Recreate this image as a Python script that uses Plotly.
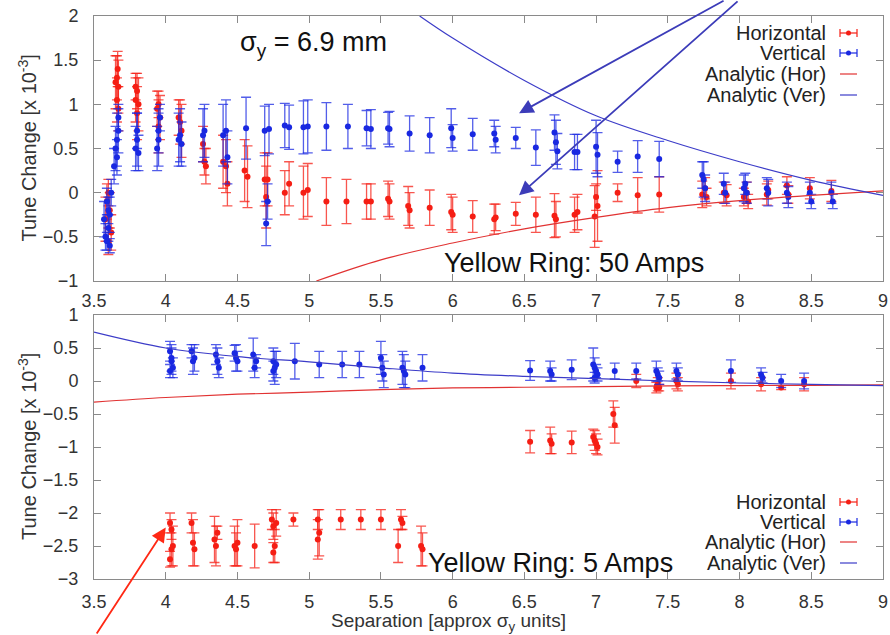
import plotly.graph_objects as go

# ---------------- data: top panel (Yellow Ring 50 Amps) ----------------
top_h_x = [3.58, 3.59, 3.60, 3.61, 3.62, 3.60,
           3.65, 3.66, 3.67, 3.66, 3.665, 3.67,
           3.79, 3.80, 3.81, 3.80, 3.79,
           3.94, 3.95, 3.96, 3.95,
           4.09, 4.10, 4.11,
           4.26, 4.27, 4.28,
           4.40, 4.42, 4.43,
           4.55, 4.57,
           4.69, 4.70, 4.71,
           4.83, 4.86, 4.96, 4.99, 5.12, 5.26, 5.40, 5.43, 5.55, 5.56,
           5.69, 5.70, 5.84, 5.99, 6.00, 6.14, 6.29, 6.30, 6.44, 6.58,
           6.71, 6.72, 6.85, 6.87, 6.99, 7.00, 7.01, 7.15, 7.29, 7.44,
           7.74, 7.76, 7.77, 7.89, 7.91, 8.03, 8.05, 8.06, 8.19, 8.20,
           8.33, 8.34, 8.49, 8.64]
top_h_y = [-0.30, -0.10, 0.00, -0.20, -0.45, -0.55,
           1.25, 1.30, 1.20, 1.05, 1.40, 0.95,
           1.05, 1.15, 1.00, 0.90, 1.20,
           0.95, 1.00, 0.85, 0.75,
           0.85, 0.80, 0.70,
           0.55, 0.35, 0.30,
           0.35, 0.30, 0.10,
           0.25, 0.18,
           0.15, -0.05, 0.15,
           0.00, 0.10, 0.00, 0.03, -0.10, -0.10, -0.10, -0.10, -0.07, -0.10,
           -0.15, -0.20, -0.17, -0.22, -0.25, -0.27, -0.30, -0.28, -0.24, -0.25,
           -0.26, -0.30, -0.25, -0.22, -0.27, -0.05, -0.15, 0.00, -0.03, -0.02,
           -0.02, 0.05, -0.05, 0.00, -0.03, -0.05, 0.00, -0.10, -0.02, 0.03,
           0.08, -0.02, 0.05, 0.02]
top_h_err = [0.25, 0.20, 0.15, 0.20, 0.20, 0.15,
             0.30, 0.25, 0.30, 0.25, 0.20, 0.25,
             0.25, 0.20, 0.30, 0.30, 0.15,
             0.20, 0.15, 0.25, 0.30,
             0.20, 0.25, 0.30,
             0.20, 0.15, 0.20,
             0.30, 0.30, 0.25,
             0.35, 0.35,
             0.30, 0.35, 0.30,
             0.25, 0.25, 0.30, 0.30, 0.27, 0.25, 0.20, 0.20, 0.20, 0.20,
             0.22, 0.20, 0.20, 0.20, 0.20, 0.18, 0.17, 0.15, 0.13, 0.20,
             0.25, 0.20, 0.20, 0.20, 0.35, 0.15, 0.40, 0.10, 0.20, 0.20,
             0.15, 0.12, 0.10, 0.12, 0.12, 0.10, 0.12, 0.08, 0.12, 0.10,
             0.10, 0.10, 0.12, 0.12]

top_v_x = [3.57, 3.58, 3.59, 3.59, 3.60, 3.60, 3.61, 3.62, 3.61,
           3.64, 3.65, 3.66, 3.67, 3.66, 3.67,
           3.79, 3.80, 3.81, 3.80,
           3.94, 3.95, 3.96, 3.95,
           4.09, 4.10, 4.11,
           4.26, 4.27,
           4.40, 4.42, 4.43,
           4.56,
           4.69, 4.70, 4.71, 4.72,
           4.83, 4.86, 4.96, 4.99, 5.12, 5.27, 5.40, 5.43, 5.55, 5.56,
           5.70, 5.84, 5.99, 6.00, 6.14, 6.29, 6.30, 6.44, 6.58,
           6.71, 6.72, 6.73, 6.85, 6.87, 7.00, 7.01, 7.15, 7.29, 7.44,
           7.74, 7.75, 7.76, 7.89, 7.90, 8.03, 8.04, 8.05, 8.19, 8.20,
           8.33, 8.34, 8.49, 8.50, 8.64, 8.65]
top_v_y = [-0.30, -0.50, -0.10, -0.55, -0.20, -0.40, -0.25, 0.00, -0.60,
           0.30, 0.50, 0.60, 0.70, 0.40, 0.85,
           0.50, 0.60, 0.45, 0.70,
           0.50, 0.70, 0.85, 0.60,
           0.60, 0.65, 0.55,
           0.65, 0.70,
           0.65, 0.70, 0.40,
           0.73,
           0.70, -0.35, -0.10, 0.72,
           0.76, 0.74, 0.74, 0.75, 0.75, 0.75, 0.73, 0.72, 0.73, 0.72,
           0.67, 0.65, 0.73, 0.62, 0.66, 0.67, 0.60, 0.62, 0.51,
           0.68, 0.57, 0.47, 0.46, 0.46, 0.52, 0.43, 0.35, 0.41, 0.38,
           0.20, 0.15, 0.05, 0.10, 0.00, 0.05, 0.10, 0.00, 0.05, 0.00,
           0.00, -0.05, 0.00, -0.10, 0.00, -0.10]
top_v_err = [0.20, 0.15, 0.15, 0.10, 0.15, 0.15, 0.20, 0.15, 0.08,
             0.20, 0.25, 0.30, 0.25, 0.20, 0.15,
             0.25, 0.30, 0.20, 0.20,
             0.25, 0.25, 0.15, 0.30,
             0.30, 0.30, 0.25,
             0.30, 0.30,
             0.35, 0.35, 0.30,
             0.35,
             0.28, 0.25, 0.20, 0.28,
             0.25, 0.25, 0.30, 0.30, 0.27, 0.25, 0.20, 0.22, 0.18, 0.20,
             0.20, 0.20, 0.22, 0.15, 0.18, 0.15, 0.15, 0.12, 0.20,
             0.20, 0.25, 0.20, 0.20, 0.20, 0.30, 0.25, 0.12, 0.18, 0.20,
             0.15, 0.20, 0.15, 0.12, 0.12, 0.15, 0.12, 0.12, 0.12, 0.15,
             0.12, 0.12, 0.12, 0.08, 0.12, 0.08]

top_ana_h_x = [5.05, 5.5, 6.0, 6.5, 7.0, 7.5, 8.0, 8.5, 9.0]
top_ana_h_y = [-1.0, -0.76, -0.57, -0.41, -0.28, -0.17, -0.09, -0.03, 0.02]
top_ana_v_x = [5.77, 6.0, 6.5, 7.0, 7.5, 8.0, 8.5, 9.0]
top_ana_v_y = [2.0, 1.75, 1.27, 0.87, 0.59, 0.35, 0.14, -0.03]

# ---------------- data: bottom panel (Yellow Ring 5 Amps) ----------------
bot_h_x = [4.03, 4.04, 4.05, 4.04, 4.03,
           4.18, 4.19, 4.20,
           4.35, 4.36, 4.34,
           4.48, 4.49, 4.50,
           4.62,
           4.74, 4.75, 4.76, 4.75, 4.77,
           4.89, 5.06, 5.07, 5.06, 5.22, 5.36, 5.50, 5.64, 5.62, 5.65,
           5.78, 5.79,
           6.54, 6.68, 6.69, 6.83, 6.98, 6.99, 7.00, 7.01, 7.12, 7.13,
           7.28, 7.42, 7.43, 7.44, 7.56, 7.57, 7.94, 8.15, 8.29, 8.45]
bot_h_y = [-2.15, -2.25, -2.50, -2.55, -2.70,
           -2.15, -2.45, -2.55,
           -2.50, -2.30, -2.40,
           -2.50, -2.55, -2.45,
           -2.50,
           -2.10, -2.20, -2.50, -2.60, -2.15,
           -2.10, -2.10, -2.30, -2.40, -2.10, -2.10, -2.10, -2.10, -2.50, -2.15,
           -2.50, -2.55,
           -0.92, -0.90, -0.95, -0.93, -0.85, -0.90, -0.95, -1.00, -0.50, -0.67,
           0.00, -0.10, -0.05, -0.10, 0.00, -0.05, 0.00, -0.05, -0.10, -0.05]
bot_h_err = [0.15, 0.15, 0.30, 0.25, 0.12,
             0.15, 0.35, 0.25,
             0.30, 0.10, 0.35,
             0.30, 0.25, 0.35,
             0.33,
             0.15, 0.20, 0.25, 0.15, 0.20,
             0.10, 0.15, 0.35, 0.30, 0.15, 0.15, 0.15, 0.15, 0.25, 0.10,
             0.30, 0.25,
             0.17, 0.20, 0.15, 0.17, 0.12, 0.15, 0.15, 0.12, 0.20, 0.27,
             0.10, 0.08, 0.10, 0.05, 0.12, 0.10, 0.12, 0.10, 0.03, 0.10]

bot_v_x = [4.03, 4.04, 4.05, 4.04, 4.03,
           4.18, 4.19, 4.20,
           4.35, 4.36, 4.37,
           4.48, 4.49, 4.50,
           4.61, 4.62, 4.63,
           4.75, 4.76, 4.77, 4.75,
           4.90, 5.07, 5.23, 5.35, 5.50, 5.51, 5.52, 5.65, 5.66, 5.67, 5.79,
           6.54, 6.68, 6.69, 6.83, 6.98, 6.99, 7.00, 7.01, 6.99,
           7.13, 7.28, 7.42, 7.43, 7.44, 7.56, 7.57, 7.94, 8.15, 8.16, 8.29, 8.45]
bot_v_y = [0.45, 0.35, 0.20, 0.30, 0.15,
           0.45, 0.30, 0.35,
           0.40, 0.30, 0.20,
           0.42, 0.35, 0.30,
           0.40, 0.20, 0.30,
           0.30, 0.20, 0.25, 0.15,
           0.30, 0.25, 0.25, 0.25, 0.35, 0.20, 0.10, 0.20, 0.15, 0.10, 0.20,
           0.16, 0.15, 0.10, 0.17, 0.25, 0.20, 0.15, 0.10, 0.05,
           0.15, 0.15, 0.15, 0.10, 0.05, 0.15, 0.10, 0.15, 0.10, 0.05, 0.00, 0.00]
bot_v_err = [0.15, 0.20, 0.15, 0.20, 0.10,
             0.10, 0.20, 0.20,
             0.15, 0.20, 0.15,
             0.12, 0.20, 0.15,
             0.25, 0.15, 0.10,
             0.20, 0.25, 0.20, 0.15,
             0.27, 0.20, 0.20, 0.20, 0.25, 0.20, 0.20, 0.25, 0.25, 0.20, 0.20,
             0.15, 0.15, 0.10, 0.15, 0.25, 0.15, 0.10, 0.10, 0.08,
             0.12, 0.12, 0.15, 0.10, 0.10, 0.12, 0.10, 0.17, 0.10, 0.08, 0.10, 0.12]

bot_ana_x = [3.5, 4.0, 4.5, 5.0, 5.5, 6.0, 6.5, 7.0, 7.5, 8.0, 8.5, 9.0]
bot_ana_v_y = [0.74, 0.50, 0.37, 0.29, 0.20, 0.12, 0.07, 0.035, 0.0, -0.03, -0.05, -0.07]
bot_ana_h_y = [-0.32, -0.25, -0.20, -0.17, -0.13, -0.105, -0.095, -0.085, -0.075, -0.07, -0.065, -0.06]

x_ticks = [3.5, 4, 4.5, 5, 5.5, 6, 6.5, 7, 7.5, 8, 8.5, 9]
x_tick_text = ["3.5", "4", "4.5", "5", "5.5", "6", "6.5", "7", "7.5", "8", "8.5", "9"]
legend_labels = ["Horizontal", "Vertical", "Analytic (Hor)", "Analytic (Ver)"]

# ---------------- styling ----------------
RED = "rgb(245,30,20)"
BLUE = "rgb(25,40,225)"
RED_E = "rgba(245,30,20,0.75)"
BLUE_E = "rgba(25,40,225,0.75)"
RED_L = "rgb(225,50,50)"
BLUE_L = "rgb(60,60,200)"
FONT = "Liberation Sans, Arial, sans-serif"

# The page body margin is removed (post_script), so the figure fills the window.
W, H = 890, 635
PL, PR, PT, PB = 94, 883, 16, 579          # plot area in window pixels
L, R, T, B = PL, W - PR, PT, H - PB


def pp(px, py):
    """window pixel -> paper coordinates"""
    return (px - PL) / (PR - PL), (PB - py) / (PB - PT)


fig = go.Figure()


def data_trace(x, y, e, col, ecol, xa, ya):
    fig.add_trace(go.Scatter(
        x=x, y=y, mode="markers", xaxis=xa, yaxis=ya, showlegend=False,
        marker=dict(color=col, size=6),
        error_y=dict(type="data", array=e, visible=True, color=ecol,
                     thickness=1.3, width=5)))


def line_trace(x, y, col, xa, ya):
    fig.add_trace(go.Scatter(
        x=x, y=y, mode="lines", xaxis=xa, yaxis=ya, showlegend=False,
        line=dict(color=col, width=1.2, shape="spline")))


data_trace(top_h_x, top_h_y, top_h_err, RED, RED_E, "x", "y")
data_trace(top_v_x, top_v_y, top_v_err, BLUE, BLUE_E, "x", "y")
line_trace(top_ana_h_x, top_ana_h_y, RED_L, "x", "y")
line_trace(top_ana_v_x, top_ana_v_y, BLUE_L, "x", "y")

data_trace(bot_h_x, bot_h_y, bot_h_err, RED, RED_E, "x2", "y2")
data_trace(bot_v_x, bot_v_y, bot_v_err, BLUE, BLUE_E, "x2", "y2")
line_trace(bot_ana_x, bot_ana_h_y, RED_L, "x2", "y2")
line_trace(bot_ana_x, bot_ana_v_y, BLUE_L, "x2", "y2")

top_bottom = pp(0, 281)[1]
bot_top = pp(0, 315)[1]

axis_common = dict(
    showline=True, linecolor="#8a8a8a", linewidth=1, mirror="ticks",
    ticks="inside", ticklen=7, tickcolor="#8a8a8a", showgrid=False,
    zeroline=False, automargin=False, ticklabeloverflow="allow",
    tickfont=dict(family=FONT, size=18, color="#333"),
)

fig.update_layout(
    width=W, height=H,
    margin=dict(l=L, r=R, t=T, b=B),
    paper_bgcolor="white", plot_bgcolor="white",
    showlegend=False,
    xaxis=dict(axis_common, range=[3.5, 9], domain=[0, 1], anchor="y",
               tickvals=x_ticks, ticktext=x_tick_text, ticklabelstandoff=3),
    yaxis=dict(axis_common, range=[-1, 2], domain=[top_bottom, 1], anchor="x",
               dtick=0.5, ticklabelstandoff=11),
    xaxis2=dict(axis_common, range=[3.5, 9], domain=[0, 1], anchor="y2",
                tickvals=x_ticks, ticktext=x_tick_text, ticklabelstandoff=6),
    yaxis2=dict(axis_common, range=[-3, 1], domain=[0, bot_top], anchor="x2",
                dtick=0.5, ticklabelstandoff=11),
)

ann = []
shapes = []

# axis titles
for cy in (148.5, 447):
    ax_, ay_ = pp(27, cy)
    ann.append(dict(xref="paper", yref="paper", x=ax_, y=ay_, textangle=-90,
                    text="Tune Change [x 10<sup>-3</sup>]", showarrow=False,
                    xanchor="center", yanchor="middle",
                    font=dict(family=FONT, size=20, color="#333")))
tx, ty = pp(448, 622)
ann.append(dict(xref="paper", yref="paper", x=tx, y=ty,
                text="Separation [approx σ<sub>y</sub> units]", showarrow=False,
                xanchor="center", yanchor="middle",
                font=dict(family=FONT, size=19, color="#333")))

# panel texts
for txt, cx, cy in (("σ<sub>y</sub> = 6.9 mm", 313, 44),
                    ("Yellow Ring: 50 Amps", 574, 263),
                    ("Yellow Ring: 5 Amps", 550, 563)):
    a, b = pp(cx, cy)
    ann.append(dict(xref="paper", yref="paper", x=a, y=b, text=txt,
                    showarrow=False, xanchor="center", yanchor="middle",
                    font=dict(family=FONT, size=27, color="#111")))

# custom legends
legend_cols = [RED, BLUE, RED_L, BLUE_L]
for rows in ((33, 53, 74, 95), (502, 522, 542, 563)):
    for i, (lab, ry) in enumerate(zip(legend_labels, rows)):
        a, b = pp(828, ry)
        ann.append(dict(xref="paper", yref="paper", x=a, y=b, text=lab,
                        showarrow=False, xanchor="right", yanchor="middle",
                        font=dict(family=FONT, size=20, color="#222")))
        x0, y0 = pp(840, ry)
        x1, _ = pp(857, ry)
        col = legend_cols[i]
        shapes.append(dict(type="line", xref="paper", yref="paper",
                           x0=x0, x1=x1, y0=y0, y1=y0,
                           line=dict(color=col, width=1.2)))
        if i < 2:
            for xc in (840, 857):
                xa_, ya0 = pp(xc, ry - 4)
                _, ya1 = pp(xc, ry + 4)
                shapes.append(dict(type="line", xref="paper", yref="paper",
                                   x0=xa_, x1=xa_, y0=ya0, y1=ya1,
                                   line=dict(color=col, width=1.2)))
            c0x, c0y = pp(846, ry - 2.5)
            c1x, c1y = pp(851, ry + 2.5)
            shapes.append(dict(type="circle", xref="paper", yref="paper",
                               x0=c0x, x1=c1x, y0=c1y, y1=c0y,
                               fillcolor=col, line=dict(color=col, width=0)))

# arrows
ARROW_BLUE = "rgb(60,60,185)"
ann.append(dict(xref="x", yref="y", x=6.463, y=0.90, ax=206, ay=-119,
                text="", showarrow=True, arrowhead=2, arrowsize=1.6,
                arrowwidth=1.8, arrowcolor=ARROW_BLUE))
ann.append(dict(xref="x", yref="y", x=6.463, y=-0.03, ax=220, ay=-201,
                text="", showarrow=True, arrowhead=2, arrowsize=1.6,
                arrowwidth=1.8, arrowcolor=ARROW_BLUE))
ann.append(dict(xref="x2", yref="y2", x=4.0, y=-2.22, ax=-70, ay=113,
                text="", showarrow=True, arrowhead=2, arrowsize=1.6,
                arrowwidth=1.8, arrowcolor="rgb(255,40,20)"))

fig.update_layout(annotations=ann, shapes=shapes)
fig.write_html("out.html",
               config={"displayModeBar": False},
               post_script="document.body.style.margin='0';"
                           "document.body.style.overflow='hidden';")
